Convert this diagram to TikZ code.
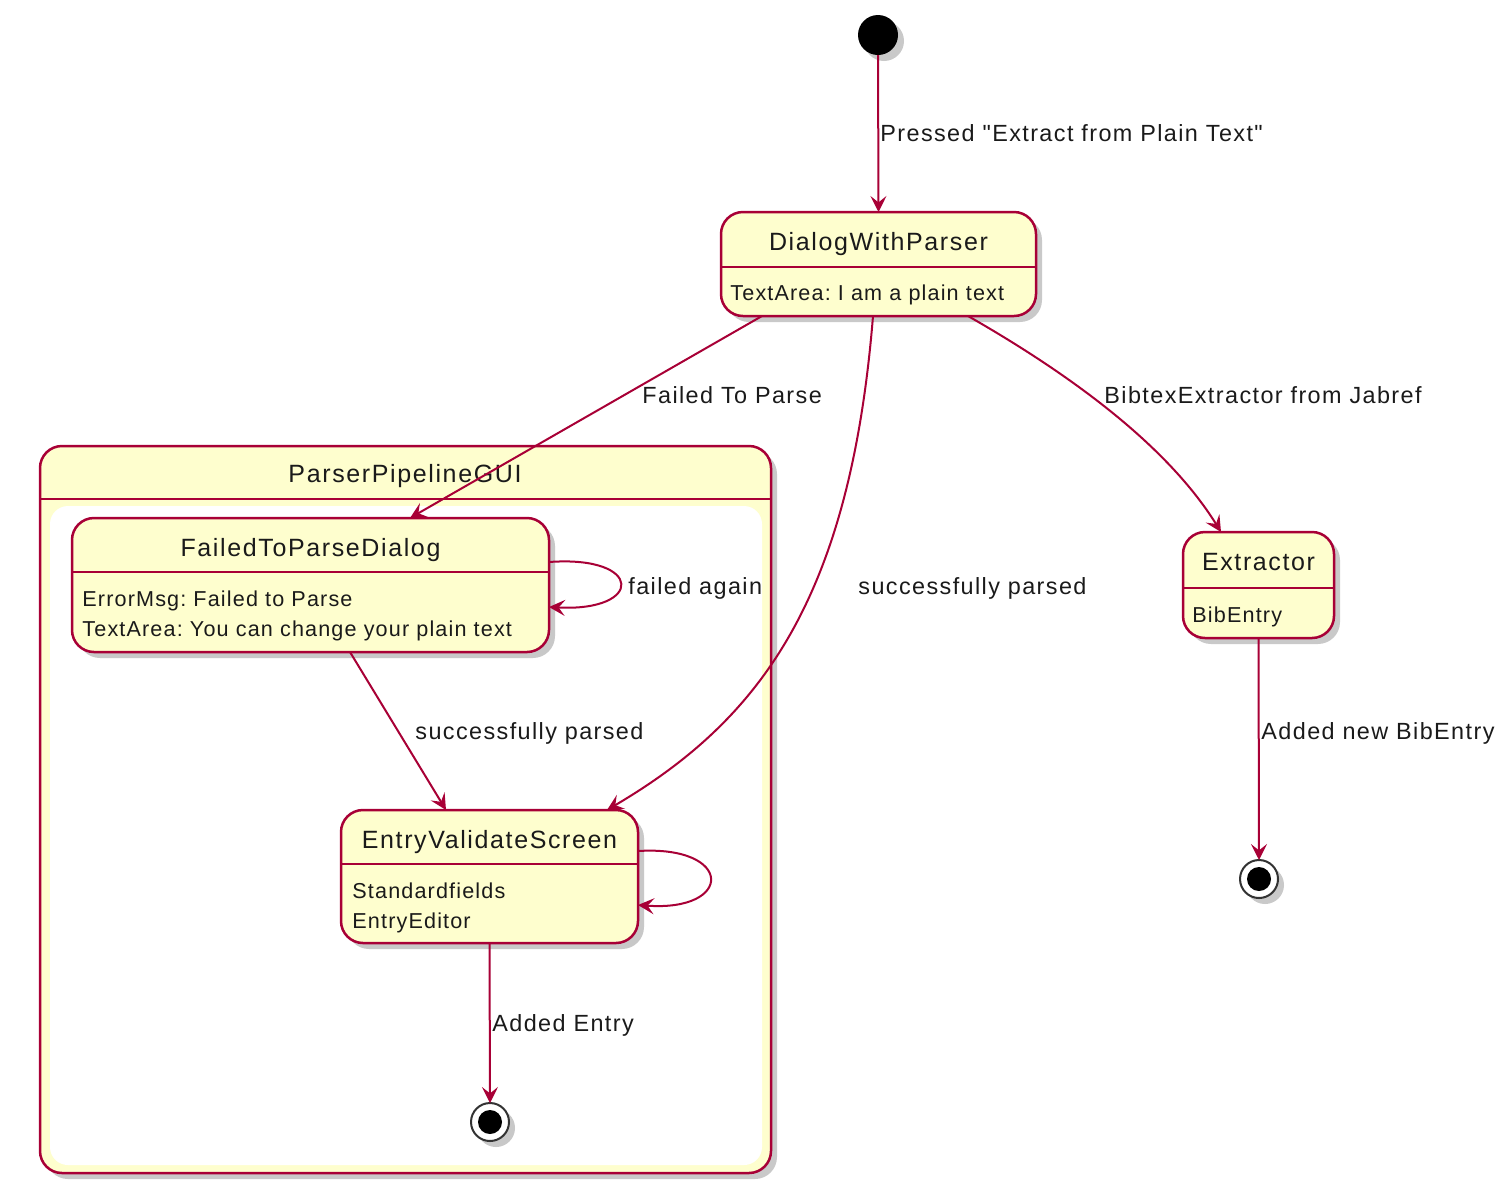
\documentclass[tikz,border=0pt]{standalone}
\usepackage{fontspec}
\setmainfont{Liberation Sans}
\newfontfamily\titlefont{Liberation Sans}[LetterSpace=6.5]
\newfontfamily\lblfont{Liberation Sans}[LetterSpace=6]
\newfontfamily\attrfont{Liberation Sans}[LetterSpace=5.3]
\usetikzlibrary{arrows.meta,shadows,calc}
\definecolor{bord}{HTML}{A80036}
\definecolor{yel}{HTML}{FEFECE}
\definecolor{txt}{HTML}{1A1A1A}
\tikzset{
  shad/.style={drop shadow={shadow xshift=3pt, shadow yshift=-3pt, fill=black!70, opacity=0.3}},
  statebox/.style={draw=bord, fill=yel, line width=1.25pt, rounded corners=11pt, shad, inner sep=0pt, outer sep=0pt},
  compbox/.style={draw=bord, fill=yel, line width=1.25pt, rounded corners=11pt, shad, inner sep=0pt, outer sep=0pt},
  innerbox/.style={draw=none, fill=white, rounded corners=9pt, inner sep=0pt, outer sep=0pt},
  divider/.style={draw=bord, line width=1.25pt},
  titletext/.style={font=\titlefont\fontsize{12.5}{15}\selectfont\frenchspacing, text=txt, inner sep=0pt, anchor=base},
  attrtext/.style={font=\attrfont\fontsize{10.8}{13}\selectfont\frenchspacing, text=txt, inner sep=0pt, anchor=base west},
  lbl/.style={font=\lblfont\fontsize{11.7}{14}\selectfont\frenchspacing, text=txt, inner sep=0pt, anchor=base west},
  trans/.style={draw=bord, line width=1pt, -{Stealth[length=8pt, width=8pt, inset=3.2pt]}},
  startdot/.style={circle, fill=black, minimum size=20pt, inner sep=0pt, outer sep=0pt, shad},
  enddot/.style={circle, draw=black!80, fill=white, line width=1pt, minimum size=19pt, inner sep=0pt, outer sep=0pt, shad},
}
\begin{document}
\begin{tikzpicture}[x=0.5pt, y=-0.5pt]
\useasboundingbox (0,0) rectangle (1502,1185);

% composite state
\node[compbox, minimum width=365.5pt, minimum height=363.5pt] (comp) at (405.5,809.5) {};
\node[innerbox, minimum width=356pt, minimum height=329.5pt] (compin) at (406,835.5) {};
\draw[divider] (comp.west |- 0,499) -- (comp.east |- 0,499);
\node[titletext] (compt) at (405,482) {ParserPipelineGUI};

% start
\node[startdot] (start) at (878,35) {};

% DialogWithParser
\node[statebox, minimum width=157.5pt, minimum height=52pt] (dlg) at (878.5,264) {};
\draw[divider] (dlg.west |- 0,267) -- (dlg.east |- 0,267);
\node[titletext] (dlgt) at (878.5,250) {DialogWithParser};
\node[attrtext] (dlga) at (730,300) {TextArea: I am a plain text};

% FailedToParseDialog
\node[statebox, minimum width=238.5pt, minimum height=67pt] (ftp) at (310.5,585) {};
\draw[divider] (ftp.west |- 0,572) -- (ftp.east |- 0,572);
\node[titletext] (ftpt) at (310.5,556) {FailedToParseDialog};
\node[attrtext] (ftpa) at (82,606) {ErrorMsg: Failed to Parse};
\node[attrtext] (ftpb) at (82,636) {TextArea: You can change your plain text};

% EntryValidateScreen
\node[statebox, minimum width=148.5pt, minimum height=66.5pt] (evs) at (489.5,876.5) {};
\draw[divider] (evs.west |- 0,864) -- (evs.east |- 0,864);
\node[titletext] (evst) at (489.5,848) {EntryValidateScreen};
\node[attrtext] (evsa) at (352,898) {Standardfields};
\node[attrtext] (evsb) at (352,928) {EntryEditor};

% Extractor
\node[statebox, minimum width=75.5pt, minimum height=53pt] (ext) at (1258.5,585) {};
\draw[divider] (ext.west |- 0,588) -- (ext.east |- 0,588);
\node[titletext] (extt) at (1258.5,570) {Extractor};
\node[attrtext] (exta) at (1192,622) {BibEntry};

% end states
\node[enddot] (end1) at (490,1122) {};
\fill[black] (end1.center) circle (6pt);
\node[enddot] (end2) at (1259,879) {};
\fill[black] (end2.center) circle (6pt);

% transitions
\draw[trans] (start.south) -- (dlg.north);
\draw[trans] ([xshift=-58.25pt]dlg.south) -- ([xshift=49.75pt]ftp.north);
\draw[trans] ([xshift=-2.75pt]dlg.south) .. controls (850,600) and (760,720) .. ([xshift=58.75pt]evs.north);
\draw[trans] ([xshift=44.75pt]dlg.south) .. controls (1080,380) and (1170,450) .. ([xshift=-18.75pt]ext.north);
\draw[trans] ([xshift=19.75pt]ftp.south) -- ([xshift=-21.75pt]evs.north);
\draw[trans] ([yshift=11.5pt]ftp.east) .. controls (644,555) and (644,612) .. ([yshift=-11pt]ftp.east);
\draw[trans] ([yshift=12.75pt]evs.east) .. controls (734,845) and (734,912) .. ([yshift=-14.25pt]evs.east);
\draw[trans] (evs.south) -- (end1.north);
\draw[trans] (ext.south) -- (end2.north);

% labels
\node[lbl] (l1) at (880,141) {Pressed \char34 Extract from Plain Text\char34};
\node[lbl] (l2) at (642,403) {Failed To Parse};
\node[lbl] (l3) at (1104,403) {BibtexExtractor from Jabref};
\node[lbl] (l4) at (628,594) {failed again};
\node[lbl] (l5) at (858,594) {successfully parsed};
\node[lbl] (l6) at (415,739) {successfully parsed};
\node[lbl] (l7) at (1261,739) {Added new BibEntry};
\node[lbl] (l8) at (492,1031) {Added Entry};
\end{tikzpicture}
\end{document}
